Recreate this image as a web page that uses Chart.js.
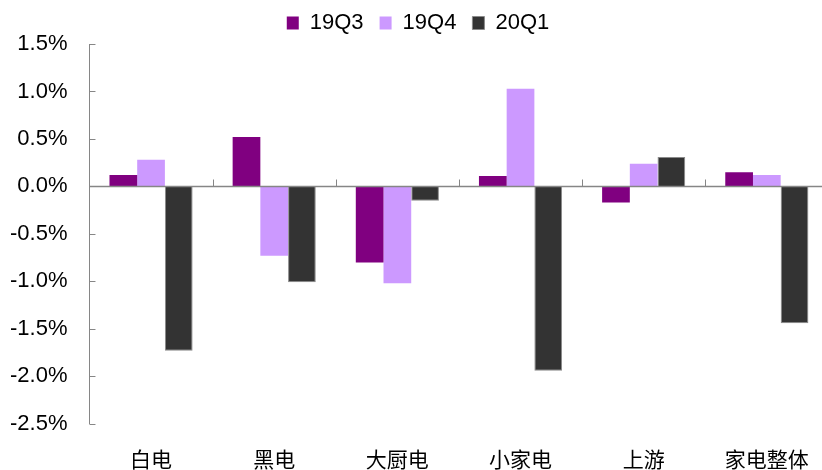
<!DOCTYPE html>
<html>
<head>
<meta charset="utf-8">
<script src="https://cdn.jsdelivr.net/npm/chart.js@4.4.0/dist/chart.umd.min.js"></script>
<style>
    html, body { margin: 0; padding: 0; background: #fff; overflow: hidden; }
    #wrap { width: 832px; height: 470px; }
</style>
</head>
<body>
<div id="wrap"><canvas id="qoqChart"></canvas></div>
<script>
const categories = ['白电', '黑电', '大厨电', '小家电', '上游', '家电整体'];
const q3_2019 = [0.12, 0.52, -0.80, 0.11, -0.17, 0.15];
const q4_2019 = [0.28, -0.73, -1.02, 1.03, 0.24, 0.12];
const q1_2020 = [-1.73, -1.01, -0.15, -1.94, 0.31, -1.44];
const seriesNames = ['19Q3', '19Q4', '20Q1'];

const axisGray = '#868686';

// zero line, inward y ticks and category separators above the zero line
const axisMarks = {
    id: 'axisMarks',
    afterDatasetsDraw(chart) {
        const { ctx, chartArea, scales } = chart;
        const x = scales.x;
        const y = scales.y;
        const zeroY = Math.round(y.getPixelForValue(0)) + 0.5;
        ctx.save();
        ctx.strokeStyle = axisGray;
        ctx.lineWidth = 1.5;
        ctx.beginPath();
        ctx.moveTo(chartArea.left, zeroY);
        ctx.lineTo(chartArea.right, zeroY);
        ctx.stroke();

        ctx.lineWidth = 1;
        ctx.beginPath();
        y.ticks.forEach((t) => {
            const py = Math.round(y.getPixelForValue(t.value)) + 0.5;
            ctx.moveTo(chartArea.left, py);
            ctx.lineTo(chartArea.left + 6, py);
        });
        for (let i = 1; i < categories.length; i++) {
            const px = Math.round((x.getPixelForValue(i - 1) + x.getPixelForValue(i)) / 2) + 0.5;
            ctx.moveTo(px, zeroY);
            ctx.lineTo(px, zeroY - 7);
        }
        ctx.stroke();
        ctx.restore();
    }
};

const ctx = document.getElementById('qoqChart').getContext('2d');
new Chart(ctx, {
    type: 'bar',
    data: {
        labels: categories,
        datasets: [{
            label: seriesNames[0],
            data: q3_2019,
            backgroundColor: '#800080',
        }, {
            label: seriesNames[1],
            data: q4_2019,
            backgroundColor: '#cc99ff',
        }, {
            label: seriesNames[2],
            data: q1_2020,
            backgroundColor: '#333333',
            borderColor: '#8a8a8a',
            borderWidth: 1,
        }]
    },
    options: {
        responsive: true,
        maintainAspectRatio: false,
        animation: false,
        layout: {
            padding: { left: 6, right: 2, top: -4, bottom: -25 }
        },
        datasets: {
            bar: {
                categoryPercentage: 0.675,
                barPercentage: 1.0,
            }
        },
        plugins: {
            legend: {
                position: 'top',
                labels: {
                    boxWidth: 12,
                    boxHeight: 13,
                    padding: 16,
                    color: '#000',
                    font: { family: 'Liberation Sans', size: 22 },
                },
            },
            tooltip: { enabled: false },
        },
        scales: {
            x: {
                grid: { display: false, drawTicks: false },
                border: { display: false },
                ticks: {
                    color: '#000',
                    padding: 23,
                    font: { family: '"Noto Sans CJK SC"', size: 21 },
                },
            },
            y: {
                min: -2.5,
                max: 1.5,
                border: { display: true, color: axisGray, width: 1 },
                grid: { display: false, drawTicks: false },
                ticks: {
                    stepSize: 0.5,
                    padding: 22,
                    color: '#000',
                    font: { family: 'Liberation Sans', size: 22 },
                    callback: (v) => v.toFixed(1) + '%',
                },
                afterFit: (scale) => { scale.width -= 18; },
            },
        },
    },
    plugins: [axisMarks],
});
</script>
</body>
</html>
